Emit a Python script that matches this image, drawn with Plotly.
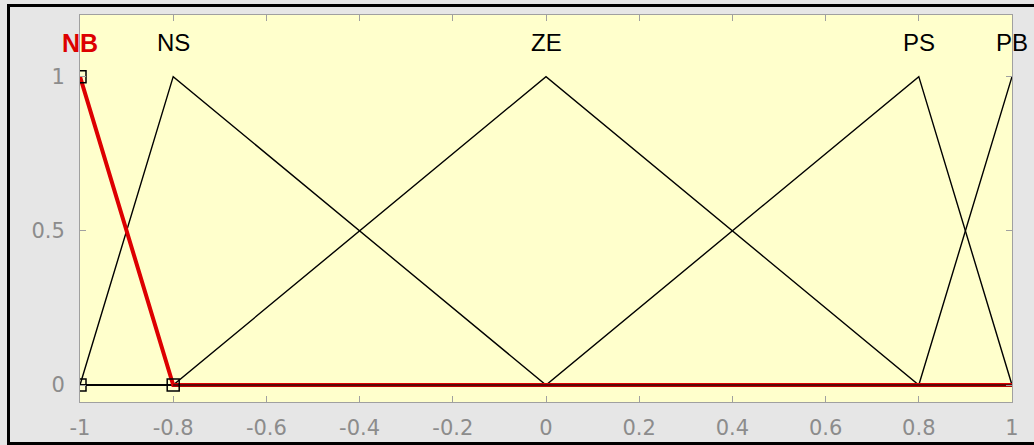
import plotly.graph_objects as go

# Membership functions (triangular) : name -> (a, b, c)
mf_names = ["NB", "NS", "ZE", "PS", "PB"]
mf_a = [-1.8, -1.0, -0.8, 0.0, 0.8]
mf_b = [-1.0, -0.8, 0.0, 0.8, 1.0]
mf_c = [-0.8, 0.0, 0.8, 1.0, 1.8]
x_min, x_max = -1.0, 1.0
selected = "NB"

x_ticks = [-1, -0.8, -0.6, -0.4, -0.2, 0, 0.2, 0.4, 0.6, 0.8, 1]
x_tick_text = ["-1", "-0.8", "-0.6", "-0.4", "-0.2", "0", "0.2", "0.4", "0.6", "0.8", "1"]
y_ticks = [0, 0.5, 1]
y_tick_text = ["0", "0.5", "1"]


def trimf_points(a, b, c):
    pts = [x_min]
    for px in (a, b, c):
        if x_min < px < x_max:
            pts.append(px)
    pts.append(x_max)
    out_x, out_y = [], []
    for px in pts:
        if px == b:
            v = 1.0
        elif px <= a or px >= c:
            v = 0.0
        elif px < b:
            v = (px - a) / (b - a)
        else:
            v = (c - px) / (c - b)
        out_x.append(px)
        out_y.append(v)
    return out_x, out_y


fig = go.Figure()

# unselected membership functions in black
for name, a, b, c in zip(mf_names, mf_a, mf_b, mf_c):
    if name == selected:
        continue
    xs, ys = trimf_points(a, b, c)
    fig.add_trace(go.Scatter(x=xs, y=ys, mode="lines",
                             line=dict(color="black", width=1.4),
                             hoverinfo="skip", showlegend=False))

# selected membership function in red (thick)
i = mf_names.index(selected)
sx, sy = trimf_points(mf_a[i], mf_b[i], mf_c[i])
fig.add_trace(go.Scatter(x=sx, y=sy, mode="lines",
                         line=dict(color="#dd0000", width=4),
                         hoverinfo="skip", showlegend=False))
# zero part overlaid by black curves (dark centre)
zx = [mf_c[i], x_max]
zy = [0, 0]
fig.add_trace(go.Scatter(x=zx, y=zy, mode="lines",
                         line=dict(color="#5a0a0a", width=2.2),
                         hoverinfo="skip", showlegend=False))
# vertex markers of the selected MF
fig.add_trace(go.Scatter(x=[x_min, x_min, mf_c[i]], y=[1, 0, 0], mode="markers",
                         marker=dict(symbol="square-open", size=12,
                                     color="black", line=dict(width=1.5)),
                         hoverinfo="skip", showlegend=False))

# labels
for name, b in zip(mf_names, mf_b):
    fig.add_annotation(x=b, y=1.11, text=name, showarrow=False,
                       xanchor="center", yanchor="middle",
                       font=dict(family="Liberation Sans, Arial, sans-serif",
                                 size=24 if name != selected else 25,
                                 color="#dd0000" if name == selected else "black",
                                 weight="bold" if name == selected else "normal"))

# outer black frame (partial)
L, T, W, H = 80, 15, 932, 387
def px2x(px):
    return (px - L) / W
def py2y(py):
    return (T + H - py) / H

frame_col = "black"
fig.add_shape(type="line", xref="paper", yref="paper",
              x0=px2x(7), x1=px2x(1040), y0=py2y(5.5), y1=py2y(5.5),
              line=dict(color=frame_col, width=3))
fig.add_shape(type="line", xref="paper", yref="paper",
              x0=px2x(8.5), x1=px2x(8.5), y0=py2y(4), y1=py2y(450),
              line=dict(color=frame_col, width=3))
fig.add_shape(type="line", xref="paper", yref="paper",
              x0=px2x(7), x1=px2x(1040), y0=py2y(443.5), y1=py2y(443.5),
              line=dict(color=frame_col, width=3))

tick_font = dict(family="DejaVu Sans, sans-serif", size=21, color="#8c8c8c")
fig.update_layout(
    width=1034, height=445,
    margin=dict(l=L, r=1034 - L - W, t=T, b=445 - T - H),
    paper_bgcolor="#e6e6e6",
    plot_bgcolor="#ffffcc",
    xaxis=dict(range=[x_min, x_max], tickvals=x_ticks, ticktext=x_tick_text,
               showgrid=False, zeroline=False, showline=True, linecolor="#a0a0a0",
               linewidth=1, mirror="ticks", ticks="inside", ticklen=6,
               tickcolor="#a0a0a0", tickfont=tick_font, ticklabelstandoff=7,
               automargin=False),
    yaxis=dict(range=[-0.055, 1.2], tickvals=y_ticks, ticktext=y_tick_text,
               showgrid=False, zeroline=False, showline=True, linecolor="#a0a0a0",
               linewidth=1, mirror="ticks", ticks="inside", ticklen=6,
               tickcolor="#a0a0a0", tickfont=tick_font, ticklabelstandoff=10,
               automargin=False),
)

fig.write_html("out.html", config={"displayModeBar": False},
               post_script="document.body.style.margin='0';document.body.style.padding='0';"
                           "document.body.style.overflow='hidden';")
